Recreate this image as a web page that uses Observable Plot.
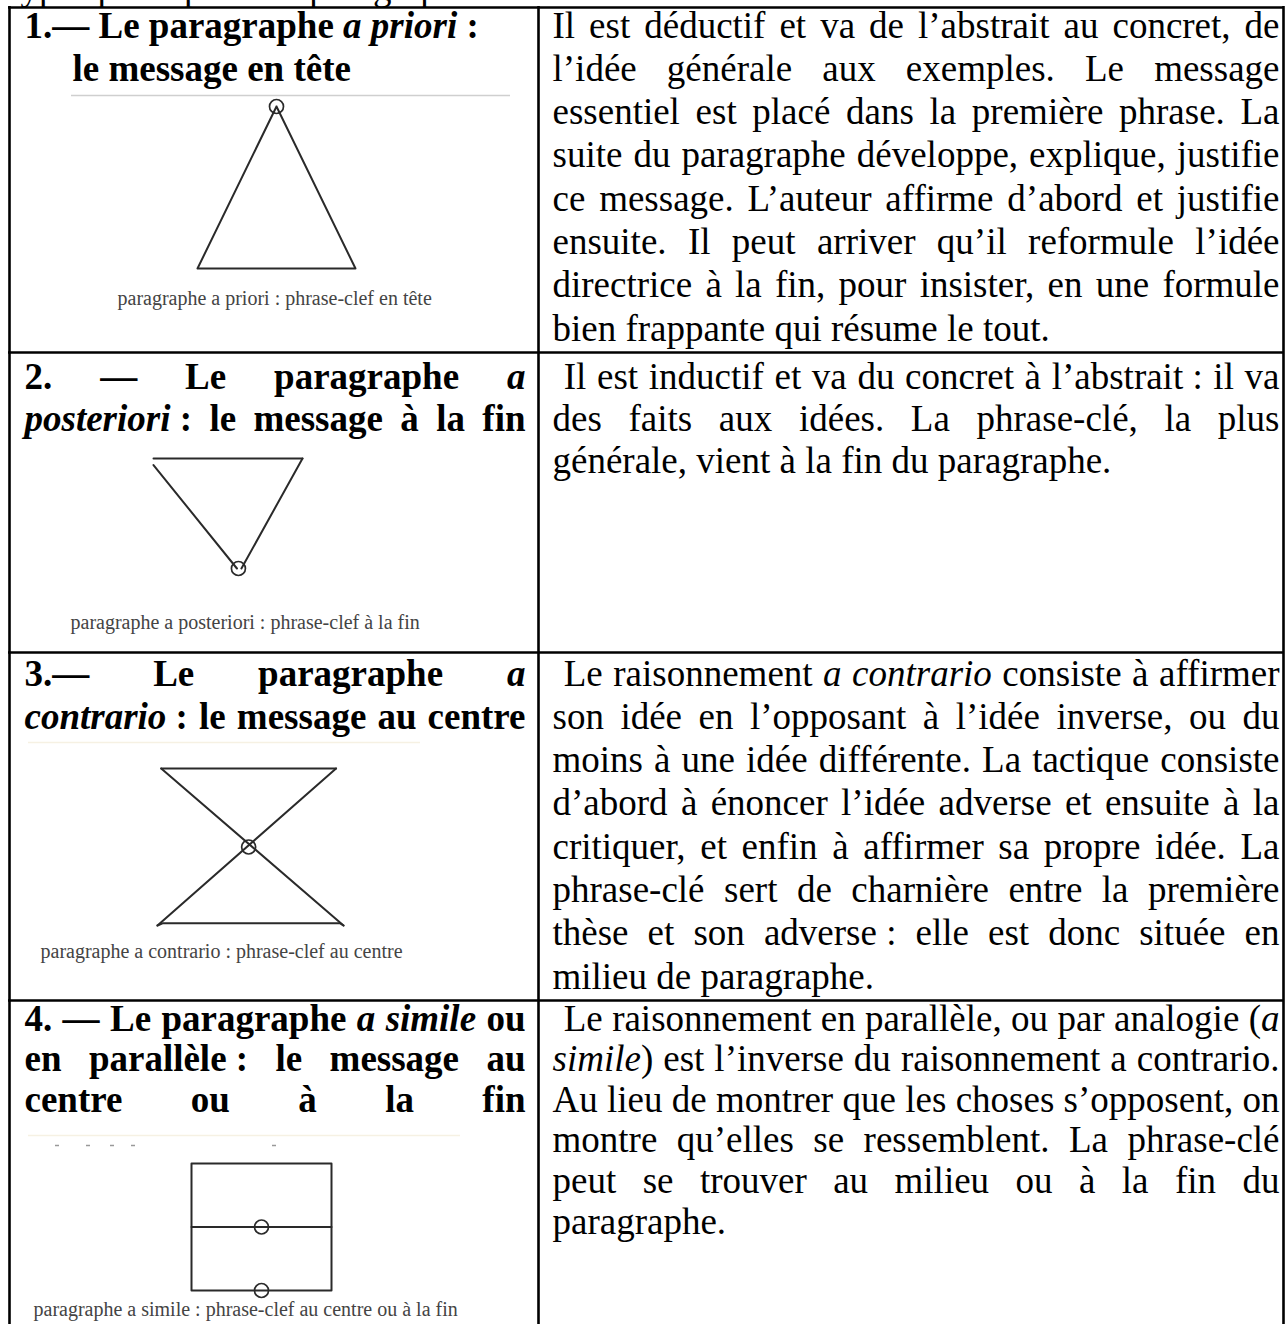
<!DOCTYPE html>
<html><head><meta charset="utf-8">
<script src="https://cdn.jsdelivr.net/npm/d3@7"></script>
<script src="https://cdn.jsdelivr.net/npm/@observablehq/plot@0.6"></script>
<style>body{margin:0;background:#fff;} #chart svg{display:block;}</style>
</head><body><div id="chart"></div>
<script>
// ---------- data ----------
const pageTitle = "Types principaux de paragraphes";
// Headings (left column). _..._ = italic, \u00A0 = non-stretching space
const headingLines = [
  ["1.— Le paragraphe _a priori_ :", "le message en tête"],
  ["2. — Le paragraphe _a_", "_posteriori_\u00A0: le message à la fin"],
  ["3.— Le paragraphe _a_", "_contrario_\u00A0: le message au centre"],
  ["4. — Le paragraphe _a simile_ ou", "en parallèle\u00A0: le message au", "centre ou à la fin"]
];
const headingJustified = [[false, false], [true, true], [true, true], [true, true, true]];
// Descriptions (right column)
const descriptionLines = [
  ["Il est déductif et va de l’abstrait au concret, de",
   "l’idée générale aux exemples. Le message",
   "essentiel est placé dans la première phrase. La",
   "suite du paragraphe développe, explique, justifie",
   "ce message. L’auteur affirme d’abord et justifie",
   "ensuite. Il peut arriver qu’il reformule l’idée",
   "directrice à la fin, pour insister, en une formule",
   "bien frappante qui résume le tout."],
  [" Il est inductif et va du concret à l’abstrait\u00A0: il va",
   "des faits aux idées. La phrase-clé, la plus",
   "générale, vient à la fin du paragraphe."],
  [" Le raisonnement _a contrario_ consiste à affirmer",
   "son idée en l’opposant à l’idée inverse, ou du",
   "moins à une idée différente. La tactique consiste",
   "d’abord à énoncer l’idée adverse et ensuite à la",
   "critiquer, et enfin à affirmer sa propre idée. La",
   "phrase-clé sert de charnière entre la première",
   "thèse et son adverse\u00A0: elle est donc située en",
   "milieu de paragraphe."],
  [" Le raisonnement en parallèle, ou par analogie (_a_",
   "_simile_) est l’inverse du raisonnement a contrario.",
   "Au lieu de montrer que les choses s’opposent, on",
   "montre qu’elles se ressemblent. La phrase-clé",
   "peut se trouver au milieu ou à la fin du",
   "paragraphe."]
];
const captions = [
  "paragraphe a priori : phrase-clef en tête",
  "paragraphe a posteriori : phrase-clef à la fin",
  "paragraphe a contrario : phrase-clef au centre",
  "paragraphe a simile : phrase-clef au centre ou à la fin"
];
// Diagram shapes in unit space (0..1 in each diagram box)
const diagramPaths = [
  [ {id: "tri", pts: [[0.5, 0], [0, 1], [1, 1], [0.5, 0]]} ],
  [ {id: "top", pts: [[0, 0], [1, 0]]},
    {id: "left", pts: [[0, 0.06], [0.56, 1]]},
    {id: "right", pts: [[1, 0], [0.59, 1]]} ],
  [ {id: "top", pts: [[0.02, 0], [0.96, 0]]},
    {id: "d1", pts: [[0.02, 0], [1, 1]]},
    {id: "d2", pts: [[0.96, 0], [0, 1]]},
    {id: "bottom", pts: [[0, 1], [0.03, 0.985], [0.98, 0.985], [1, 1]]} ],
  [ {id: "box", pts: [[0, 0], [1, 0], [1, 1], [0, 1], [0, 0]]},
    {id: "mid", pts: [[0, 0.5], [1, 0.5]]} ]
];
const diagramCircles = [
  [[0.5, 0]],
  [[0.57, 1]],
  [[0.49, 0.5]],
  [[0.5, 0.5], [0.5, 1]]
];

// ---------- layout (code) ----------
const W = 1287, H = 1324;
const rowTops = [7, 352, 652, 1000];
const colX = [9, 538, 1283];
const firstBase = [30, 36, 33, 30];
const lineStep = [43.3, 42, 43.3, 40.6];
const bodySize = 37, capSize = 20;
const leftCol = [24, 525], rightCol = [552, 1279];
const headIndent = [[0, 48], [0, 0], [0, 0], [0, 0, 0]];
const diagramBoxes = [
  {x: 197, y: 106, w: 158, h: 162},
  {x: 153, y: 458, w: 149, h: 110},
  {x: 157, y: 768, w: 186, h: 157},
  {x: 191, y: 1163, w: 140, h: 127}
];
const captionPos = [[117, 304], [70, 628], [40, 957], [33, 1315]];

const ctx = document.createElement("canvas").getContext("2d");
function fontStr(size, bold, italic) {
  return `${italic ? "italic " : ""}${bold ? "bold " : ""}${size}px "Liberation Serif"`;
}
function measure(t, size, bold, italic) { ctx.font = fontStr(size, bold, italic); return ctx.measureText(t).width; }

const glyphs = [];
function layoutLine(line, x0, x1, base, size, bold, justify) {
  let lead = 0;
  if (line.startsWith(" ")) { lead = measure(" ", size, bold, false) + 2; line = line.trimStart(); }
  let italic = false;
  const words = line.split(" ").map(tok => {
    const segs = [];
    const parts = tok.split("_");
    parts.forEach((p, i) => {
      if (i > 0) italic = !italic;
      if (p.length) segs.push({text: p, italic});
    });
    segs.forEach(s => s.w = measure(s.text, size, bold, s.italic));
    return {segs, w: d3.sum(segs, s => s.w)};
  });
  const total = d3.sum(words, w => w.w);
  const start = x0 + lead;
  const gap = justify && words.length > 1 ? (x1 - start - total) / (words.length - 1) : measure(" ", size, bold, false);
  let cx = start;
  for (const w of words) {
    for (const s of w.segs) { glyphs.push({x: cx, y: base, text: s.text, bold, italic: s.italic, size}); cx += s.w; }
    cx += gap;
  }
}
headingLines.forEach((lines, r) => lines.forEach((l, i) =>
  layoutLine(l, leftCol[0] + headIndent[r][i], leftCol[1], rowTops[r] + firstBase[r] + i * lineStep[r], bodySize, true, headingJustified[r][i])));
descriptionLines.forEach((lines, r) => lines.forEach((l, i) =>
  layoutLine(l, rightCol[0], rightCol[1], rowTops[r] + firstBase[r] + i * lineStep[r], bodySize, false, i < lines.length - 1)));

const pathData = [];
diagramPaths.forEach((paths, r) => {
  const b = diagramBoxes[r];
  paths.forEach(p => p.pts.forEach(([u, v]) => pathData.push({key: r + p.id, x: b.x + u * b.w, y: b.y + v * b.h})));
});
const circleData = [];
diagramCircles.forEach((cs, r) => { const b = diagramBoxes[r]; cs.forEach(([u, v]) => circleData.push({x: b.x + u * b.w, y: b.y + v * b.h})); });
const captionData = captions.map((c, r) => ({text: c, x: captionPos[r][0], y: captionPos[r][1]}));

const faintRules = [
  {x1: 71, x2: 510, y: 95, stroke: "#cfcfcf"},
  {x1: 28, x2: 420, y: 742, stroke: "#f6f1e3"},
  {x1: 28, x2: 460, y: 1135, stroke: "#f6f1e3"}
];
const remnants = [55, 86, 110, 131, 272].map(x => ({x1: x, x2: x + 4, y: 1145}));

const styleSets = [[false, false], [false, true], [true, false], [true, true]];
const textMarks = styleSets.map(([b, it]) => Plot.text(glyphs.filter(g => g.bold === b && g.italic === it), {
  x: "x", y: "y", text: "text", textAnchor: "start", lineAnchor: "bottom",
  fontSize: bodySize, fontFamily: "Liberation Serif", fontWeight: b ? "bold" : "normal",
  fontStyle: it ? "italic" : "normal", fill: "#000"
}));

const chart = Plot.plot({
  width: W, height: H, margin: 0,
  x: {type: "linear", domain: [0, W], range: [0, W], axis: null},
  y: {type: "linear", domain: [0, H], range: [0, H], axis: null},
  style: {background: "#fff", overflow: "visible"},
  marks: [
    Plot.text([{t: pageTitle}], {x: () => 0, y: () => -1, text: "t", textAnchor: "start", lineAnchor: "bottom",
      fontSize: bodySize, fontFamily: "Liberation Serif", fill: "#000"}),
    Plot.ruleY(faintRules, {y: "y", x1: "x1", x2: "x2", stroke: "stroke", strokeWidth: 1.6}),
    Plot.ruleY(remnants, {y: "y", x1: "x1", x2: "x2", stroke: "#999", strokeWidth: 1.5}),
    Plot.line(pathData, {x: "x", y: "y", z: "key", stroke: "#2a2a2a", strokeWidth: 2, curve: "linear"}),
    Plot.dot(circleData, {x: "x", y: "y", r: 7, stroke: "#2a2a2a", strokeWidth: 1.7, fill: "none"}),
    Plot.text(captionData, {x: "x", y: "y", text: "text", textAnchor: "start", lineAnchor: "bottom",
      fontSize: capSize, fontFamily: "Liberation Serif", fill: "#444"}),
    ...textMarks,
    Plot.ruleY(rowTops, {y: d => d, x1: colX[0] - 1, x2: colX[2] + 1, stroke: "#000", strokeWidth: 2.6}),
    Plot.ruleX(colX, {x: d => d, y1: rowTops[0] - 1, y2: H, stroke: "#000", strokeWidth: 2.6})
  ]
});
document.getElementById("chart").appendChild(chart);
</script>
</body></html>
